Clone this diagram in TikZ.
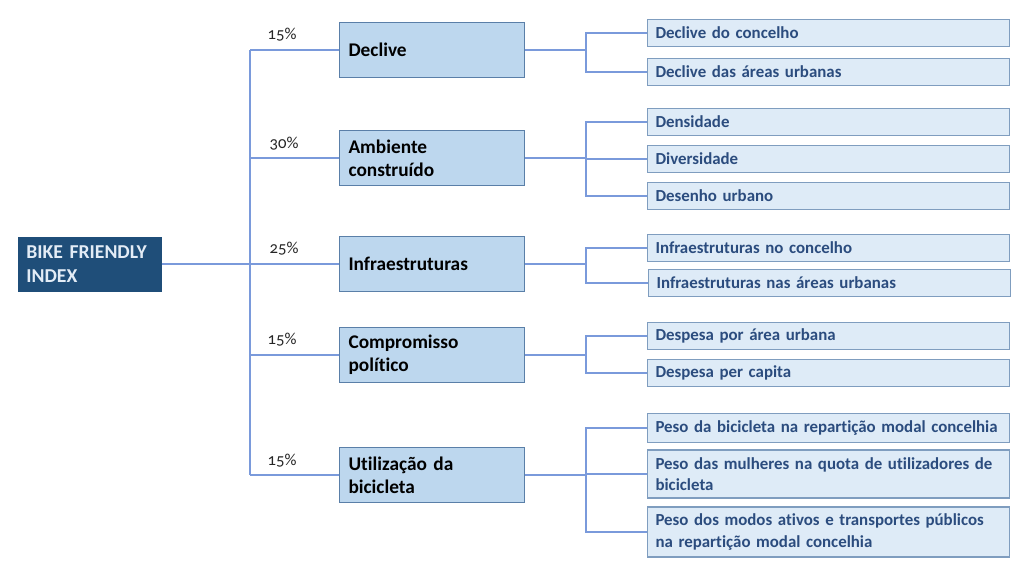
\documentclass[tikz,border=0pt]{standalone}
\usepackage{fontspec}
\setmainfont[Ligatures=CommonOff]{Carlito}
\newfontfamily\pctfont[Numbers=OldStyle]{Carlito}
\definecolor{rootfill}{HTML}{1F4E79}
\definecolor{roottext}{HTML}{E3ECF6}
\definecolor{midfill}{HTML}{BDD7EE}
\definecolor{midborder}{HTML}{5A7FA8}
\definecolor{leaffill}{HTML}{DEEBF7}
\definecolor{leafborder}{HTML}{7F9DBF}
\definecolor{leaftext}{HTML}{2B4C7E}
\definecolor{linkcol}{HTML}{7A9ADB}
\tikzset{
  x=0.02cm, y=-0.02cm,
  rootbox/.style={draw=rootfill, fill=rootfill, text=roottext, anchor=west,
    font=\fontsize{11.2}{13.5}\selectfont\bfseries, align=left,
    inner xsep=0.16cm, inner ysep=0pt, text width=2.54cm, minimum height=1.08cm},
  midbox/.style={draw=midborder, line width=0.6pt, fill=midfill, text=black, anchor=west,
    font=\fontsize{11}{13.2}\selectfont\bfseries, align=left,
    inner xsep=0.18cm, inner ysep=0pt, text width=3.34cm, minimum height=1.1cm},
  leafbox/.style={draw=leafborder, line width=0.6pt, fill=leaffill, text=leaftext, anchor=west,
    font=\fontsize{9.6}{12}\selectfont\bfseries, align=left,
    inner xsep=0.16cm, inner ysep=0pt, text width=6.92cm, minimum height=0.54cm},
  pct/.style={font=\fontsize{9.5}{11}\pctfont, text=black!85, inner sep=0pt},
  link/.style={draw=linkcol, line width=0.8pt},
}
\begin{document}
\begin{tikzpicture}
\useasboundingbox (0,0) rectangle (1024,576);
\coordinate (trunk) at (250,0);
\coordinate (fork) at (586,0);

\node[rootbox] (root) at (18,264) {BIKE FRIENDLY\\INDEX};

\node[midbox] (m1) at (339,50) {Declive};
\node[midbox] (m2) at (339,158) {Ambiente\\construído};
\node[midbox] (m3) at (339,264) {Infraestruturas};
\node[midbox] (m4) at (339,355) {Compromisso\\político};
\node[midbox] (m5) at (339,475) {Utilização da\\bicicleta};

\node[pct] (p1) at (282,35) {15\%};
\node[pct] (p2) at (284,144) {30\%};
\node[pct] (p3) at (284,249) {25\%};
\node[pct] (p4) at (282,340) {15\%};
\node[pct] (p5) at (282,461) {15\%};

\node[leafbox] (a1) at (647,33) {Declive do concelho};
\node[leafbox] (a2) at (647,72) {Declive das áreas urbanas};
\node[leafbox] (b1) at (647,122) {Densidade};
\node[leafbox] (b2) at (647,159) {Diversidade};
\node[leafbox] (b3) at (647,196) {Desenho urbano};
\node[leafbox] (c1) at (647,248) {Infraestruturas no concelho};
\node[leafbox] (c2) at (648,283) {Infraestruturas nas áreas urbanas};
\node[leafbox] (d1) at (647,336) {Despesa por área urbana};
\node[leafbox] (d2) at (647,373) {Despesa per capita};
\node[leafbox, minimum height=0.58cm] (e1) at (647,428) {Peso da bicicleta na repartição modal concelhia};
\node[leafbox, minimum height=0.96cm] (e2) at (647,474) {Peso das mulheres na quota de utilizadores de\\bicicleta};
\node[leafbox, minimum height=1.0cm] (e3) at (647,532) {Peso dos modos ativos e transportes públicos\\na repartição modal concelhia};

% left tree
\draw[link] (root.east) -- (root.east -| trunk);
\draw[link] (m1.west -| trunk) -- (m5.west -| trunk);
\foreach \m in {m1,m2,m3,m4,m5}{
  \draw[link] (\m.west -| trunk) -- (\m.west);
}
% right forks
\draw[link] (m1.east) -- (m1.east -| fork);
\draw[link] (a1.west) -- (a1.west -| fork) -- (a2.west -| fork) -- (a2.west);
\draw[link] (m2.east) -- (m2.east -| fork);
\draw[link] (b1.west) -- (b1.west -| fork) -- (b3.west -| fork) -- (b3.west);
\draw[link] (b2.west -| fork) -- (b2.west);
\draw[link] (m3.east) -- (m3.east -| fork);
\draw[link] (c1.west) -- (c1.west -| fork) -- (c2.west -| fork) -- (c2.west);
\draw[link] (m4.east) -- (m4.east -| fork);
\draw[link] (d1.west) -- (d1.west -| fork) -- (d2.west -| fork) -- (d2.west);
\draw[link] (m5.east) -- (m5.east -| fork);
\draw[link] (e1.west) -- (e1.west -| fork) -- (e3.west -| fork) -- (e3.west);
\draw[link] (e2.west -| fork) -- (e2.west);
\end{tikzpicture}
\end{document}
